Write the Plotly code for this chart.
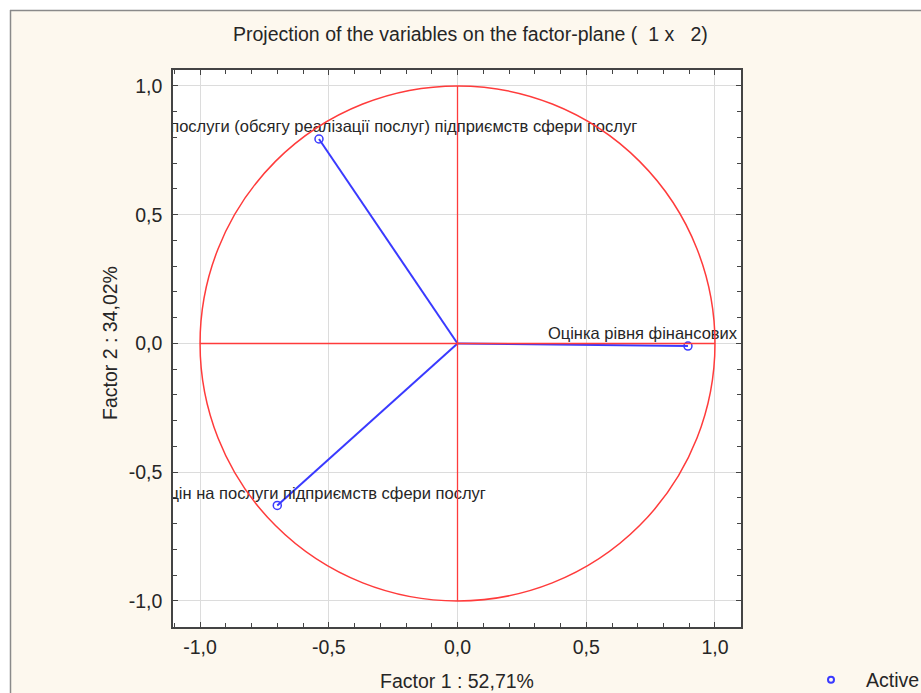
import plotly.graph_objects as go

# Factor loadings of the active variables on factors 1 and 2
var_names = [
    "Оцінка рівня надання послуги (обсягу реалізації послуг) підприємств сфери послуг",
    "Оцінка рівня цін на послуги підприємств сфери послуг",
    "Оцінка рівня фінансових результатів",
]
factor1 = [-0.538, -0.700, 0.895]
factor2 = [0.794, -0.629, -0.010]

tick_vals = [-1.0, -0.5, 0.0, 0.5, 1.0]
tick_text = ["-1,0", "-0,5", "0,0", "0,5", "1,0"]

title_text = "Projection of the variables on the factor-plane (  1 x   2)"
x_title = "Factor 1 : 52,71%"
y_title = "Factor 2 : 34,02%"
legend_name = "Active"

W, H = 921, 693
L, R, T, B = 173, 180, 70, 66
pw, ph = W - L - R, H - T - B


def px_x(p):
    return (p - L) / pw


def px_y(p):
    return (H - B - p) / ph


BLUE = "#3a3aff"
RED = "#ff3b3b"
TXT = "#262626"
FONT = "Liberation Sans, Arial, sans-serif"

fig = go.Figure()

# unit circle and the two axes through the origin
fig.add_shape(type="circle", xref="x", yref="y", x0=-1, x1=1, y0=-1, y1=1,
              line=dict(color=RED, width=1.5), layer="above")
fig.add_shape(type="line", xref="x", yref="y", x0=-1, x1=1, y0=0, y1=0,
              line=dict(color=RED, width=1.3), layer="above")
fig.add_shape(type="line", xref="x", yref="y", x0=0, x1=0, y0=-1, y1=1,
              line=dict(color=RED, width=1.3), layer="above")

# vectors from the origin to each variable
for fx, fy in zip(factor1, factor2):
    fig.add_trace(go.Scatter(
        x=[0, fx], y=[0, fy], mode="lines",
        line=dict(color=BLUE, width=2), hoverinfo="skip", showlegend=False,
    ))

# variable points; each label sits just above its point (blank second line)
fig.add_trace(go.Scatter(
    x=factor1, y=factor2, mode="markers+text", name=legend_name,
    marker=dict(symbol="circle-open", size=8, color=BLUE, line=dict(width=1.5, color=BLUE)),
    text=[n + "<br> " for n in var_names], textposition="middle center",
    textfont=dict(family=FONT, size=16.5, color=TXT),
    cliponaxis=True, showlegend=False,
))

# legend entry with the small open marker
fig.add_trace(go.Scatter(
    x=[None], y=[None], mode="markers", name=legend_name,
    marker=dict(symbol="circle-open", size=6, color=BLUE, line=dict(width=2, color=BLUE)),
    showlegend=True,
))

# white border strips with a grey frame line around the cream panel
frame = [
    dict(type="rect", xref="paper", yref="paper", x0=px_x(0), x1=px_x(W), y0=px_y(0), y1=px_y(10),
         fillcolor="white", line=dict(width=0), layer="below"),
    dict(type="rect", xref="paper", yref="paper", x0=px_x(0), x1=px_x(10), y0=px_y(0), y1=px_y(H),
         fillcolor="white", line=dict(width=0), layer="below"),
    dict(type="line", xref="paper", yref="paper", x0=px_x(10), x1=px_x(W), y0=px_y(10.5), y1=px_y(10.5),
         line=dict(color="#8a8a8a", width=1.5)),
    dict(type="line", xref="paper", yref="paper", x0=px_x(10.5), x1=px_x(10.5), y0=px_y(10), y1=px_y(H),
         line=dict(color="#8a8a8a", width=1.5)),
]
for s in frame:
    fig.add_shape(**s)

axis_common = dict(
    tickvals=tick_vals, ticktext=tick_text,
    ticks="inside", ticklen=5, tickcolor="#444", tickwidth=1,
    minor=dict(dtick=0.1, ticks="inside", ticklen=4, tickcolor="#444", showgrid=False),
    showgrid=True, gridcolor="#dcdcdc", gridwidth=1,
    zeroline=False, showline=True, linecolor="#444", linewidth=1.5, mirror="allticks",
    tickfont=dict(family=FONT, size=19.5, color=TXT),
    fixedrange=True,
)

fig.update_layout(
    width=W, height=H,
    margin=dict(l=L, r=R, t=T, b=B, autoexpand=False),
    paper_bgcolor="#fdf8ee", plot_bgcolor="white",
    xaxis=dict(range=[-1.105, 1.101], ticklabelstandoff=2, **axis_common),
    yaxis=dict(range=[-1.101, 1.062], ticklabelstandoff=5, **axis_common),
    showlegend=True,
    legend=dict(x=px_x(796), y=px_y(680), xanchor="left", yanchor="middle",
                bgcolor="rgba(0,0,0,0)", font=dict(family=FONT, size=19.5, color=TXT),
                itemwidth=60),
    annotations=[
        dict(text=title_text, xref="paper", yref="paper", x=px_x(470), y=px_y(34),
             showarrow=False, xanchor="center", yanchor="middle",
             font=dict(family=FONT, size=19.5, color=TXT)),
        dict(text=x_title, xref="paper", yref="paper", x=px_x(457), y=px_y(681),
             showarrow=False, xanchor="center", yanchor="middle",
             font=dict(family=FONT, size=19.5, color=TXT)),
        dict(text=y_title, xref="paper", yref="paper", x=px_x(110), y=px_y(343),
             showarrow=False, xanchor="center", yanchor="middle", textangle=-90,
             font=dict(family=FONT, size=19.5, color=TXT)),
    ],
)

fig.write_html("out.html")
